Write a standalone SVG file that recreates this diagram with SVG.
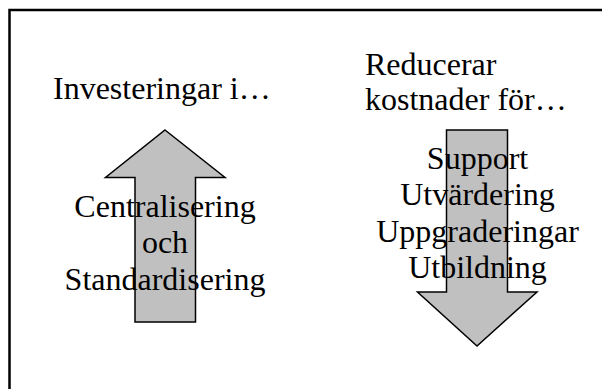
<svg xmlns="http://www.w3.org/2000/svg" width="602" height="389" viewBox="0 0 602 389">
<style>
.t{font-family:"Liberation Serif","Times New Roman",serif;font-size:32px;fill:#000}
.c{text-anchor:middle}
.arrow{fill:#c0c0c0;stroke:#000;stroke-width:1.5;stroke-linejoin:miter}
</style>
<rect x="0" y="0" width="602" height="389" fill="#fff"/>
<g id="frame">
<path d="M9.5,400 V10 H610" fill="none" stroke="#000" stroke-width="2.5"/>
</g>
<g id="connectors">
<path id="up-arrow" class="arrow" d="M165,130 L225,177.5 L195.5,177.5 L195.5,322 L135,322 L135,177.5 L105.5,177.5 Z"/>
<path id="down-arrow" class="arrow" d="M446.5,130 L507.5,130 L507.5,292 L537,292 L477,346 L417.5,292 L446.5,292 Z"/>
</g>
<g id="left-title">
<text class="t" x="53" y="99">Investeringar i…</text>
</g>
<g id="right-title">
<text class="t" x="365" y="75">Reducerar</text>
<text class="t" x="365" y="110">kostnader för…</text>
</g>
<g id="left-node">
<text class="t c" x="165" y="217">Centralisering</text>
<text class="t c" x="165" y="253">och</text>
<text class="t c" x="165" y="289.5">Standardisering</text>
</g>
<g id="right-node">
<text class="t c" x="477.5" y="168.5">Support</text>
<text class="t c" x="477.5" y="205">Utvärdering</text>
<text class="t c" x="477.5" y="241.5">Uppgraderingar</text>
<text class="t c" x="477.5" y="278">Utbildning</text>
</g>
</svg>
